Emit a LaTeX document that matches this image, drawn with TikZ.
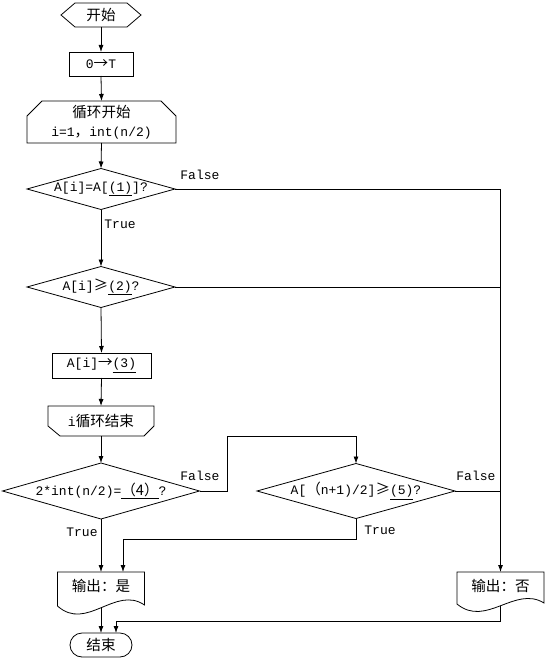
\documentclass[tikz,border=0pt]{standalone}
\usepackage{fontspec}
\setmainfont{Liberation Mono}
\newfontfamily\cjkf{Noto Sans CJK SC}[Scale=1.12]
\newcommand\zh[1]{{\cjkf #1}}
\usetikzlibrary{arrows.meta,shapes.geometric}
\tikzset{
  shp/.style={inner sep=0pt, outer sep=0pt},
  proc/.style={shp, draw},
  dia/.style={shp, draw, diamond},
  lbl/.style={inner sep=0pt},
  arr/.style={-{Latex[length=7pt,width=5pt]}},
}
\begin{document}
\begin{tikzpicture}[x=1pt, y=-1pt, line width=0.8pt, font=\fontsize{13}{19}\selectfont]
\useasboundingbox (0,0) rectangle (549,663);
% start
\node[shp, minimum width=80pt, minimum height=24pt] (start) at (101,15) {\zh{开始}};
\draw (start.west) -- ([xshift=14pt]start.north west) -- ([xshift=-14pt]start.north east) -- (start.east) -- ([xshift=-14pt]start.south east) -- ([xshift=14pt]start.south west) -- cycle;
% 0->T
\node[proc, minimum width=64pt, minimum height=24pt] (T) at (101,64) {0\zh{→}T};
% loop start
\node[shp, minimum width=149pt, minimum height=42pt, align=center] (lS) at (101.5,122) {\zh{循环开始}\\i=1\zh{，}int(n/2)};
\draw (lS.south west) -- ([yshift=-15pt]lS.north west) -- ([xshift=15pt]lS.north west) -- ([xshift=-15pt]lS.north east) -- ([yshift=-15pt]lS.north east) -- (lS.south east) -- cycle;
% diamond 1
\node[dia, minimum width=148pt, minimum height=41pt] (d1) at (101,189) {};
\node[shp] (d1t) at (d1) {A[i]=A[\underline{(1)}]?};
% diamond 2
\node[dia, minimum width=148pt, minimum height=41pt] (d2) at (101,287) {};
\node[shp] (d2t) at (d2) {A[i]\zh{≥}\underline{(2)}?};
% box 3
\node[proc, minimum width=99pt, minimum height=25pt] (b3) at (101.5,365.5) {A[i]\zh{→}\underline{(3)}};
% loop end
\node[shp, minimum width=106pt, minimum height=30pt] (lE) at (101,421) {i\zh{循环结束}};
\draw (lE.north west) -- (lE.north east) -- ([yshift=10pt]lE.south east) -- ([xshift=-10pt]lE.south east) -- ([xshift=12pt]lE.south west) -- ([yshift=10pt]lE.south west) -- cycle;
% diamond 3
\node[dia, minimum width=197pt, minimum height=56pt] (d3) at (101,491) {};
\node[shp] (d3t) at (d3) {2*int(n/2)=\underline{\zh{（4）}}?};
% diamond 5
\node[dia, minimum width=198pt, minimum height=55pt] (d5) at (356,491) {};
\node[shp] (d5t) at (d5) {A[\zh{（}n+1)/2]\zh{≥}\underline{(5)}?};
% outputs
\node[shp, minimum width=87pt, minimum height=28pt] (outY) at (101,586) {\zh{输出：是}};
\draw (outY.north west) -- (outY.north east) -- ++(0,33) .. controls +(-29,-20) and +(29,26) .. ++(-87,1) -- cycle;
\node[shp, minimum width=87pt, minimum height=28pt] (outN) at (500.5,586) {\zh{输出：否}};
\draw (outN.north west) -- (outN.north east) -- ++(0,31) .. controls +(-29,-18) and +(29,24) .. ++(-87,1) -- cycle;
\coordinate (outYb) at ([yshift=-7.5pt]outY.south);
\coordinate (outNb) at ([yshift=-5.5pt]outN.south);
% end
\node[proc, rounded corners=12pt, minimum width=62pt, minimum height=24pt] (endn) at (101,645) {\zh{结束}};
% connectors
\draw[arr] (start.south) -- (T.north);
\draw[arr] (T.south) -- (lS.north);
\draw[arr] (lS.south) -- (d1.north);
\draw[arr] (d1.south) -- (d2.north);
\draw[arr] (d2.south) -- (b3.north);
\draw[arr] (b3.south) -- (lE.north);
\draw[arr] (lE.south) -- (d3.north);
\coordinate (rt) at (d1.east -| outN.north);
\draw (d1.east) -- (rt);
\draw[arr] (rt) -- (outN.north);
\draw (d2.east) -- (d2.east -| outN.north);
\draw (d5.east) -- (d5.east -| outN.north);
\draw[arr] (d3.east) -- ++(28,0) -- ++(0,-55) -| (d5.north);
\draw[arr] (d3.south) -- (outY.north);
\draw[arr] (d5.south) -- ++(0,21) -| ([xshift=22pt]outY.north);
\draw[arr] (outNb) -- ++(0,15.5) -| ([xshift=15pt]endn.north);
\draw[arr] (outYb) -- (endn.north);
% labels
\node[lbl, anchor=west] (f1) at (180,175) {False};
\node[lbl, anchor=west] (t1) at (104,224) {True};
\node[lbl, anchor=west] (f3) at (180,476) {False};
\node[lbl, anchor=east] (t3) at (98,532) {True};
\node[lbl, anchor=west] (f5) at (456,476) {False};
\node[lbl, anchor=west] (t5) at (364,530) {True};
\end{tikzpicture}
\end{document}
